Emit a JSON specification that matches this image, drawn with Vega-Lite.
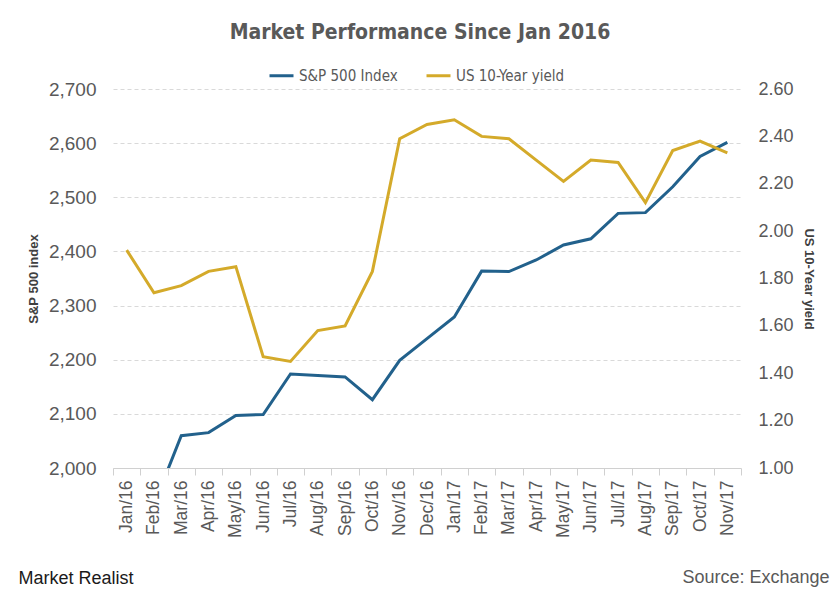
{
  "$schema": "https://vega.github.io/schema/vega-lite/v6.json",
  "autosize": {"type": "none"},
  "width": 628,
  "height": 379,
  "padding": {"left": 113, "top": 89, "right": 99, "bottom": 132},
  "background": "white",
  "config": {"view": {"stroke": null}, "font": "Liberation Sans"},
  "title": {
    "text": "Market Performance  Since Jan 2016",
    "font": "DejaVu Sans Condensed, Liberation Sans",
    "fontSize": 21,
    "fontWeight": "bold",
    "color": "#595959",
    "anchor": "middle",
    "frame": "group",
    "offset": 19,
    "dx": -7
  },
  "data": {
    "values": [
      {"month": "Jan/16", "sp": 1940.24, "yield": 1.92},
      {"month": "Feb/16", "sp": 1932.23, "yield": 1.74},
      {"month": "Mar/16", "sp": 2059.74, "yield": 1.77},
      {"month": "Apr/16", "sp": 2065.30, "yield": 1.83},
      {"month": "May/16", "sp": 2096.95, "yield": 1.85},
      {"month": "Jun/16", "sp": 2098.86, "yield": 1.47},
      {"month": "Jul/16", "sp": 2173.60, "yield": 1.45},
      {"month": "Aug/16", "sp": 2170.95, "yield": 1.58},
      {"month": "Sep/16", "sp": 2168.27, "yield": 1.60},
      {"month": "Oct/16", "sp": 2126.15, "yield": 1.83},
      {"month": "Nov/16", "sp": 2198.81, "yield": 2.39},
      {"month": "Dec/16", "sp": 2238.83, "yield": 2.45},
      {"month": "Jan/17", "sp": 2278.87, "yield": 2.47},
      {"month": "Feb/17", "sp": 2363.64, "yield": 2.40},
      {"month": "Mar/17", "sp": 2362.72, "yield": 2.39},
      {"month": "Apr/17", "sp": 2384.20, "yield": 2.30},
      {"month": "May/17", "sp": 2411.80, "yield": 2.21},
      {"month": "Jun/17", "sp": 2423.41, "yield": 2.30},
      {"month": "Jul/17", "sp": 2470.30, "yield": 2.29},
      {"month": "Aug/17", "sp": 2471.65, "yield": 2.12},
      {"month": "Sep/17", "sp": 2519.36, "yield": 2.34},
      {"month": "Oct/17", "sp": 2575.26, "yield": 2.38},
      {"month": "Nov/17", "sp": 2601.50, "yield": 2.33}
    ]
  },
  "layer": [
    {
      "mark": {"type": "line", "clip": true, "strokeWidth": 3},
      "encoding": {
        "x": {
          "field": "month", "type": "ordinal", "sort": null,
          "scale": {"type": "band", "paddingInner": 0, "paddingOuter": 0},
          "axis": {
            "title": "Source: Exchange",
            "labelAngle": -90,
            "labelFontSize": 17.5,
            "labelColor": "#595959",
            "labelPadding": 5,
            "tickBand": "extent",
            "tickSize": 7,
            "tickColor": "#d0d0d0",
            "domainColor": "#d0d0d0",
            "grid": false,
            "titleFontSize": 18,
            "titleFontWeight": "normal",
            "titleColor": "#595959",
            "titleAnchor": "end",
            "titleAlign": "right",
            "titleBaseline": "alphabetic",
            "titleX": 716,
            "titleY": 114
          }
        },
        "y": {
          "field": "sp", "type": "quantitative",
          "scale": {"domain": [2000, 2700], "zero": false, "nice": false},
          "axis": {
            "title": "S&P 500 index",
            "values": [2000, 2100, 2200, 2300, 2400, 2500, 2600, 2700],
            "format": ",.0f",
            "labelFontSize": 19,
            "labelColor": "#595959",
            "labelPadding": 17,
            "domain": false,
            "ticks": false,
            "grid": true,
            "gridDash": [4, 3],
            "gridColor": "#d9d9d9",
            "titleFontSize": 13,
            "titleFontWeight": "bold",
            "titleColor": "#404040",
            "titlePadding": 8
          }
        },
        "color": {
          "datum": "S&P 500 Index", "type": "nominal",
          "scale": {"domain": ["S&P 500 Index", "US 10-Year yield"], "range": ["#22618c", "#d4aa2a"]},
          "legend": {
            "title": null,
            "orient": "none",
            "direction": "horizontal",
            "legendX": 155,
            "legendY": -27,
            "symbolType": "stroke",
            "symbolStrokeWidth": 3,
            "symbolSize": 576,
            "labelFont": "DejaVu Sans Condensed, Liberation Sans",
            "labelFontSize": 15,
            "labelColor": "#595959",
            "labelOffset": 4,
            "columnPadding": 22
          }
        }
      }
    },
    {
      "mark": {"type": "line", "strokeWidth": 3},
      "encoding": {
        "x": {
          "field": "month", "type": "ordinal", "sort": null,
          "axis": {
            "orient": "top",
            "title": "Market Realist",
            "labels": false,
            "ticks": false,
            "domain": false,
            "grid": false,
            "titleFontSize": 18,
            "titleFontWeight": "normal",
            "titleColor": "#1a1a1a",
            "titleAnchor": "start",
            "titleAlign": "left",
            "titleBaseline": "alphabetic",
            "titleX": -95,
            "titleY": 494
          }
        },
        "y": {
          "field": "yield", "type": "quantitative",
          "scale": {"domain": [1.0, 2.6], "zero": false, "nice": false},
          "axis": {
            "orient": "right",
            "title": "US 10-Year yield",
            "values": [1.0, 1.2, 1.4, 1.6, 1.8, 2.0, 2.2, 2.4, 2.6],
            "format": ".2f",
            "labelFontSize": 18,
            "labelColor": "#595959",
            "labelPadding": 17,
            "domain": false,
            "ticks": false,
            "grid": false,
            "titleFontSize": 13,
            "titleFontWeight": "bold",
            "titleColor": "#404040",
            "titlePadding": 8
          }
        },
        "color": {"datum": "US 10-Year yield", "type": "nominal"}
      }
    }
  ],
  "resolve": {"scale": {"y": "independent"}, "axis": {"x": "independent"}}
}
